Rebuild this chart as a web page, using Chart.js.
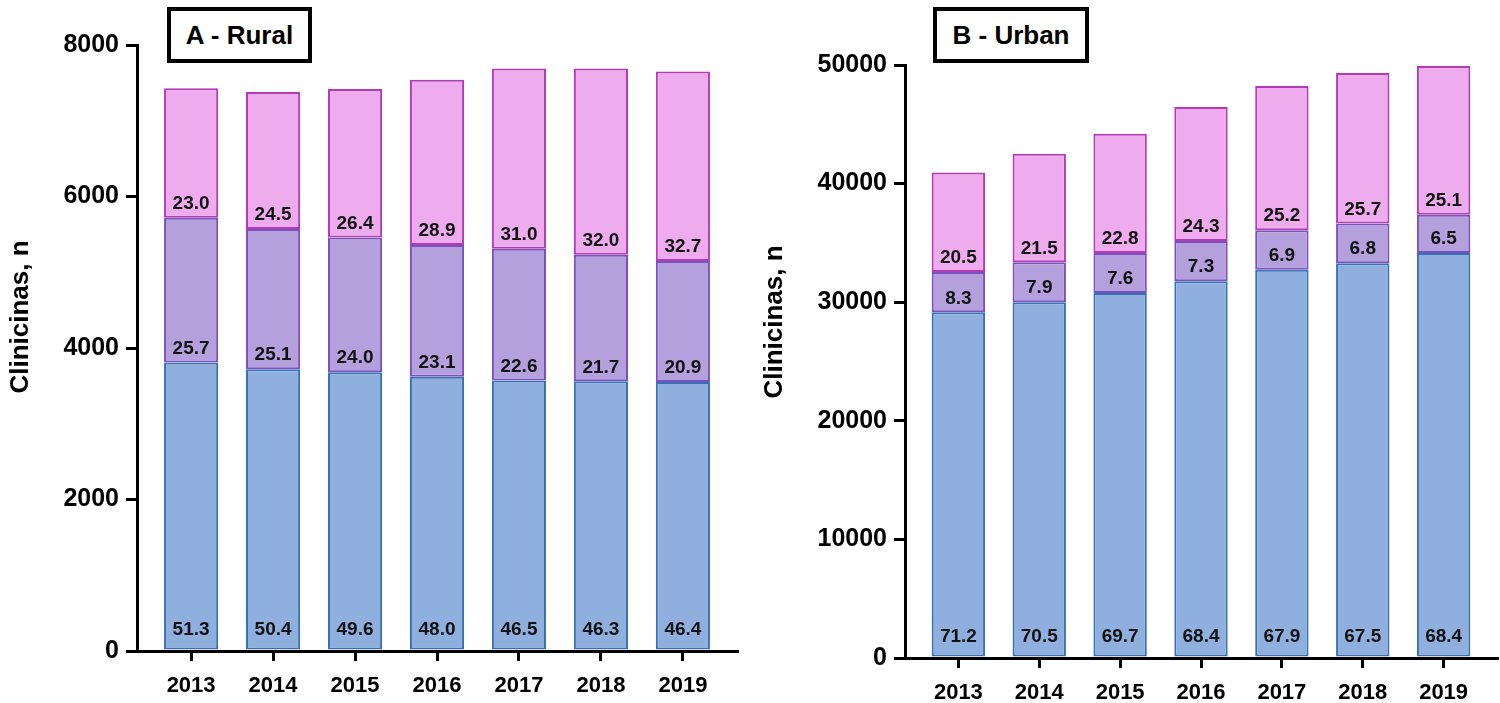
<!DOCTYPE html>
<html>
<head>
<meta charset="utf-8">
<script src="https://cdn.jsdelivr.net/npm/chart.js@4/dist/chart.umd.min.js"></script>
<style>
  body { margin: 0; background: #fff; width: 1500px; height: 703px; position: relative; overflow: hidden; }
  .panel { position: absolute; top: 0; width: 750px; height: 703px; }
  .tag {
    position: absolute; top: 7px; height: 56px; box-sizing: border-box;
    border: 4px solid #000; background: #fff;
    font: bold 26px "Liberation Sans", Arial, sans-serif;
    display: flex; align-items: center; justify-content: center;
  }
</style>
</head>
<body>
<div class="panel" style="left:0"><canvas id="rural" width="750" height="703"></canvas></div>
<div class="panel" style="left:750px"><canvas id="urban" width="750" height="703"></canvas></div>
<div class="tag" style="left:167px; width:145px">A - Rural</div>
<div class="tag" style="left:933px; width:156px">B - Urban</div>

<script>
// Jahre
var years = [2013, 2014, 2015, 2016, 2017, 2018, 2019];

// Rural – Werte (n)
var ruralBlue   = [3810, 3720, 3680, 3620, 3570, 3560, 3550];
var ruralPurple = [1910, 1850, 1780, 1740, 1740, 1670, 1600];
var ruralPink   = [1710, 1810, 1960, 2180, 2380, 2460, 2500];
// Rural – Prozente
var ruralBluePct   = ["51.3", "50.4", "49.6", "48.0", "46.5", "46.3", "46.4"];
var ruralPurplePct = ["25.7", "25.1", "24.0", "23.1", "22.6", "21.7", "20.9"];
var ruralPinkPct   = ["23.0", "24.5", "26.4", "28.9", "31.0", "32.0", "32.7"];

// Urban – Werte (n)
var urbanBlue   = [29150, 30000, 30780, 31770, 32740, 33290, 34140];
var urbanPurple = [3400, 3360, 3360, 3390, 3330, 3350, 3240];
var urbanPink   = [8390, 9150, 10070, 11290, 12150, 12680, 12530];
// Urban – Prozente
var urbanBluePct   = ["71.2", "70.5", "69.7", "68.4", "67.9", "67.5", "68.4"];
var urbanPurplePct = ["8.3", "7.9", "7.6", "7.3", "6.9", "6.8", "6.5"];
var urbanPinkPct   = ["20.5", "21.5", "22.8", "24.3", "25.2", "25.7", "25.1"];

var FONT = '"Liberation Sans", Arial, sans-serif';

// Prozentwerte in die Balken schreiben
var barLabels = {
  id: 'barLabels',
  afterDatasetsDraw: function (chart) {
    var ctx = chart.ctx;
    ctx.save();
    ctx.font = 'bold 19px ' + FONT;
    ctx.fillStyle = '#111';
    ctx.textAlign = 'center';
    ctx.textBaseline = 'middle';
    chart.data.datasets.forEach(function (ds, di) {
      var meta = chart.getDatasetMeta(di);
      meta.data.forEach(function (bar, i) {
        ctx.fillText(ds.pcts[i], bar.x, bar.base - ds.labelOffset);
      });
    });
    ctx.restore();
  }
};

// Achsentitel selbst zeichnen
var yTitle = {
  id: 'yTitle',
  afterDraw: function (chart, args, opts) {
    var ctx = chart.ctx;
    ctx.save();
    ctx.translate(opts.x, opts.y);
    ctx.rotate(-Math.PI / 2);
    ctx.font = 'bold 26px ' + FONT;
    ctx.fillStyle = '#000';
    ctx.textAlign = 'center';
    ctx.textBaseline = 'middle';
    ctx.fillText(opts.text, 0, 0);
    ctx.restore();
  }
};

function makeDatasets(blue, purple, pink, bluePct, purplePct, pinkPct) {
  var common = { borderWidth: 2, borderSkipped: false, barPercentage: 0.66, categoryPercentage: 1 };
  return [
    Object.assign({ label: 'blue', data: blue, pcts: bluePct, labelOffset: 20,
      backgroundColor: '#8fb0de', borderColor: '#3b6fb4' }, common),
    Object.assign({ label: 'purple', data: purple, pcts: purplePct, labelOffset: 14,
      backgroundColor: '#b3a0dc', borderColor: '#7b50be' }, common),
    Object.assign({ label: 'pink', data: pink, pcts: pinkPct, labelOffset: 14,
      backgroundColor: '#eeabee', borderColor: '#b23cb4' }, common)
  ];
}

function makeChart(id, datasets, cfg) {
  return new Chart(document.getElementById(id), {
    type: 'bar',
    data: { labels: years, datasets: datasets.map(function (ds) {
      ds.data = ds.data.map(function (v, i) { return { x: years[i], y: v }; });
      return ds;
    }) },
    plugins: [barLabels, yTitle],
    options: {
      responsive: false,
      animation: false,
      layout: { padding: { top: cfg.top, right: cfg.right, bottom: 0, left: 0 } },
      plugins: {
        legend: { display: false },
        tooltip: { enabled: false },
        yTitle: { text: 'Clinicinas, n', x: cfg.titleX, y: cfg.titleY }
      },
      scales: {
        x: {
          type: 'linear',
          stacked: true,
          offset: false,
          min: years[0] - 0.66,
          max: years[years.length - 1] + 0.66,
          afterBuildTicks: function (scale) {
            scale.ticks = years.map(function (y) { return { value: y }; });
          },
          afterFit: function (scale) { scale.height = cfg.xHeight; },
          grid: { offset: false, drawOnChartArea: false, color: '#000', lineWidth: 3, tickLength: 10, tickWidth: 3, tickColor: '#000' },
          border: { display: true, color: '#000', width: 3 },
          ticks: {
            autoSkip: false, maxRotation: 0, padding: 12, color: '#000',
            font: { family: FONT, size: 22, weight: 'bold' },
            callback: function (v) { return String(v); }
          }
        },
        y: {
          stacked: true,
          min: 0,
          max: cfg.yMax,
          afterFit: function (scale) { scale.width = cfg.yWidth; },
          grid: { drawOnChartArea: false, color: '#000', lineWidth: 3, tickLength: 11, tickWidth: 3, tickColor: '#000' },
          border: { display: true, color: '#000', width: 3 },
          ticks: {
            stepSize: cfg.yStep, padding: 7, color: '#000',
            font: { family: FONT, size: 25, weight: 'bold' },
            callback: function (v) { return String(v); }
          }
        }
      }
    }
  });
}

makeChart('rural',
  makeDatasets(ruralBlue, ruralPurple, ruralPink, ruralBluePct, ruralPurplePct, ruralPinkPct),
  { top: 45, right: 13, yWidth: 137, xHeight: 52, yMax: 8000, yStep: 2000, titleX: 21, titleY: 317 });

makeChart('urban',
  makeDatasets(urbanBlue, urbanPurple, urbanPink, urbanBluePct, urbanPurplePct, urbanPinkPct),
  { top: 65, right: 3, yWidth: 155, xHeight: 45, yMax: 50000, yStep: 10000, titleX: 25, titleY: 322 });
</script>
</body>
</html>
